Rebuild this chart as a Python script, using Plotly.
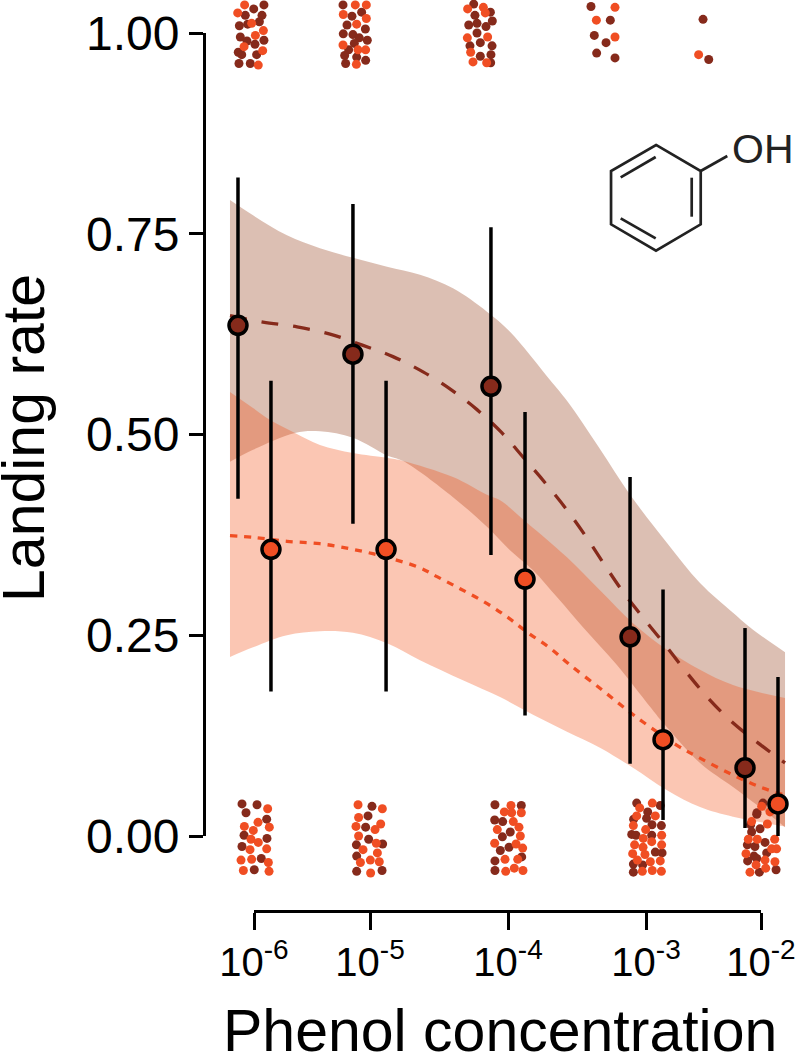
import plotly.graph_objects as go

DARK = "#862a1b"
ORANGE = "#f04e23"
FONT = "Liberation Sans"

# x values are positions along the (non-uniform) concentration axis; tick positions below
tick_pos = [0, 0.841, 1.841, 2.841, 3.674]
tick_labels = ["10<sup>-6</sup>", "10<sup>-5</sup>", "10<sup>-4</sup>", "10<sup>-3</sup>", "10<sup>-2</sup>"]
y_ticks = [0, 0.25, 0.5, 0.75, 1]
y_tick_labels = ["0.00", "0.25", "0.50", "0.75", "1.00"]

dark_upper_x = [-.174, -.007, .239, .478, .717, .964, 1.203, 1.442, 1.688, 1.855, 2.145, 2.268, 2.507, 2.725, 2.993, 3.232, 3.471, 3.616, 3.848]
dark_upper_y = [.792, .773, .748, .732, .720, .709, .699, .682, .653, .628, .568, .542, .482, .425, .365, .315, .278, .257, .229]
dark_lower_x = [-.174, -.007, .297, .478, .717, .964, 1.080, 1.442, 1.688, 1.855, 2.022, 2.203, 2.384, 2.630, 2.870, 2.964, 3.232, 3.471, 3.717, 3.848]
dark_lower_y = [.466, .481, .502, .504, .496, .474, .467, .422, .385, .356, .331, .296, .260, .213, .161, .141, .091, .061, .029, .011]
orange_upper_x = [-.174, -.007, .116, .297, .478, .717, .964, 1.080, 1.442, 1.688, 1.783, 1.978, 2.268, 2.507, 2.746, 2.993, 3.232, 3.471, 3.848]
orange_upper_y = [.553, .533, .518, .502, .487, .477, .471, .467, .447, .425, .418, .390, .347, .306, .265, .232, .207, .188, .172]
orange_lower_x = [-.174, -.007, .239, .478, .717, .964, 1.203, 1.514, 1.783, 2.022, 2.268, 2.507, 2.746, 2.993, 3.232, 3.471, 3.848]
orange_lower_y = [.223, .235, .250, .255, .253, .240, .219, .194, .173, .151, .130, .110, .085, .057, .036, .024, .012]

dark_line_x = [-.174, .065, .312, .551, .790, 1.007, 1.225, 1.435, 1.616, 1.797, 1.949, 2.109, 2.268, 2.413, 2.543, 2.674, 2.833, 2.993, 3.138, 3.290, 3.464, 3.652, 3.848]
dark_line_y = [.648, .640, .634, .625, .611, .597, .578, .555, .531, .502, .472, .440, .406, .371, .337, .304, .269, .235, .203, .172, .142, .116, .091]
orange_line_x = [-.174, -.007, .239, .478, .717, .964, 1.203, 1.326, 1.493, 1.674, 1.833, 1.978, 2.145, 2.290, 2.507, 2.674, 2.819, 3.065, 3.232, 3.471, 3.667, 3.848]
orange_line_y = [.374, .372, .367, .364, .357, .347, .334, .323, .308, .291, .273, .254, .234, .213, .184, .161, .142, .113, .097, .076, .061, .051]

dark_mean_x = [-.116, .717, 1.717, 2.725, 3.558]
dark_mean_y = [.636, .600, .560, .248, .085]
dark_err_hi = [.820, .787, .758, .447, .259]
dark_err_lo = [.420, .389, .350, .090, .010]
orange_mean_x = [.123, .957, 1.964, 2.964, 3.797]
orange_mean_y = [.357, .357, .320, .120, .040]
orange_err_hi = [.567, .567, .528, .307, .198]
orange_err_lo = [.180, .180, .150, .020, .000]

landed_dark_x = [.072, -.002, -.063, .058, .039, -.046, -.106, -.099, -.051, .072, .007, -.114, -.089, .019, -.109, -.027,
                 .645, .780, .710, .674, .807, .647, .717, .763, .821, .727, .686, .657, .744, .809, .664,
                 1.592, 1.713, 1.601, 1.727, 1.556, 1.616, 1.681, 1.616, 1.565, 1.640, 1.725, 1.717, 1.640, 1.715,
                 2.442, 2.582, 2.466, 2.551, 2.483, 2.616, 3.254, 3.295]
landed_dark_y = [1.035, 1.030, 1.022, 1.022, 1.014, 1.011, 1.009, .995, .990, .991, .986, .976, .973, .973, .962, .962,
                 1.035, 1.026, 1.021, 1.010, 1.005, .999, .998, .994, .991, .987, .979, .972, .970, .966, .962,
                 1.036, 1.026, 1.022, 1.015, 1.010, 1.012, 1.008, 1.000, .984, .988, .984, .973, .971, .963,
                 1.033, 1.016, .997, .988, .975, .969, 1.017, .967]
landed_orange_x = [-.068, -.118, -.017, .068, .010, -.072, .063, .031,
                   .734, .814, .647, .814, .744, .645, .754, .809, .742,
                   1.548, 1.662, 1.676, 1.546, 1.693, 1.570, 1.587, 1.686,
                   2.616, 2.481, 2.616, 3.222]
landed_orange_y = [1.035, 1.025, 1.012, 1.003, .997, .983, .978, .960,
                   1.035, 1.035, 1.023, 1.018, 1.011, .985, .979, .979, .961,
                   1.030, 1.032, 1.025, .994, .995, .976, .964, .963,
                   1.032, 1.016, .995, .973]

missed_dark_x = [-.087, .022, -.058, .092, -.072, .094, -.087, .053, .002,
                 .855, .826, .809, .831, .742, .932, .744, .744, .928,
                 1.746, 1.937, 1.744, 1.802, 1.857, 1.800, 1.848, 1.785, 1.940, 1.746, 1.746,
                 2.773, 2.944, 2.853, 2.845, 2.751, 2.884, 2.952, 2.882, 2.737, 2.768, 2.908, 2.957, 2.749, 2.816, 2.749,
                 3.643, 3.599, 3.667, 3.606, 3.703, 3.575, 3.630, 3.715, 3.623, 3.577, 3.643, 3.783, 3.662, 3.688, 3.645]
missed_dark_y = [.040, .039, .029, .021, .001, -.003, -.013, -.028, -.042,
                 .037, .025, .011, -.004, -.011, -.010, -.025, -.044, -.043,
                 .039, .038, .020, .018, .005, -.001, -.014, -.018, -.026, -.031, -.043,
                 .041, .038, .030, .022, .021, .014, .013, .001, .002, .001, -.020, -.021, -.035, -.036, -.045,
                 .027, .014, .009, .005, -.008, -.011, -.013, -.021, -.025, -.031, -.028, -.042, -.045, .041, .029]
missed_orange_x = [.099, .029, -.070, .111, -.005, -.022, .031, -.029, .092, -.094, -.017, .104, -.077, .109,
                   .754, .930, .758, .918, .739, .877, .758, .886, .790, .894, .771, .843, .908, .845,
                   1.862, 1.814, 1.867, 1.937, 1.879, 1.920, 1.763, 1.930, 1.744, 1.899, 1.947, 1.911, 1.819, 1.886, 1.824, 1.949,
                   2.886, 2.795, 2.773, 2.908, 2.749, 2.838, 2.821, 2.954, 2.758, 2.882, 2.954, 2.819, 2.744, 2.833, 2.778, 2.944, 2.872, 2.814, 2.886, 2.952,
                   3.679, 3.739, 3.606, 3.720, 3.582, 3.647, 3.773, 3.565, 3.751, 3.787, 3.703, 3.775, 3.638, 3.708, 3.594]
missed_orange_y = [.034, .017, .012, .011, .007, -.004, -.008, -.017, -.016, -.030, -.029, -.033, -.043, -.044,
                   .039, .034, .023, .015, .012, .008, .000, -.009, -.017, -.021, -.033, -.030, -.032, -.046,
                   .038, .030, .029, .029, .018, .011, .008, .000, -.009, -.010, -.015, -.029, -.029, -.040, -.044, -.043,
                   .041, .035, .025, .025, .013, .008, -.003, .001, -.011, -.007, -.011, -.014, -.022, -.023, -.030, -.031, -.032, -.044, -.043, -.044,
                   .037, .030, .018, .015, -.004, -.004, -.004, -.022, -.016, -.016, -.030, -.032, -.036, -.040, -.045]

W, H = 800, 1055
fig = go.Figure()


def band(ux, uy, lx, ly, fill):
    fig.add_trace(go.Scatter(x=lx, y=ly, mode="lines", hoverinfo="skip", showlegend=False,
                             line=dict(width=0, shape="spline", smoothing=1)))
    fig.add_trace(go.Scatter(x=ux, y=uy, mode="lines", fill="tonexty", fillcolor=fill, hoverinfo="skip",
                             showlegend=False, line=dict(width=0, shape="spline", smoothing=1)))


band(dark_upper_x, dark_upper_y, dark_lower_x, dark_lower_y, "rgba(138,42,2,0.30)")
band(orange_upper_x, orange_upper_y, orange_lower_x, orange_lower_y, "rgba(242,78,20,0.32)")

fig.add_trace(go.Scatter(x=dark_line_x, y=dark_line_y, mode="lines", showlegend=False,
                         line=dict(color=DARK, width=3.3, dash="17px,15px", shape="spline", smoothing=1)))
fig.add_trace(go.Scatter(x=orange_line_x, y=orange_line_y, mode="lines", showlegend=False,
                         line=dict(color=ORANGE, width=3.3, dash="7px,7px", shape="spline", smoothing=1)))

for xs, ys, col in [(landed_dark_x, landed_dark_y, DARK), (missed_dark_x, missed_dark_y, DARK),
                    (landed_orange_x, landed_orange_y, ORANGE), (missed_orange_x, missed_orange_y, ORANGE)]:
    fig.add_trace(go.Scatter(x=xs, y=ys, mode="markers", cliponaxis=False, showlegend=False,
                             marker=dict(color=col, size=9, line=dict(width=0))))


def means(xs, ys, hi, lo, col):
    fig.add_trace(go.Scatter(
        x=xs, y=ys, mode="markers", cliponaxis=False, showlegend=False,
        error_y=dict(type="data", symmetric=False,
                     array=[round(h - y, 3) for h, y in zip(hi, ys)],
                     arrayminus=[round(y - l, 3) for y, l in zip(ys, lo)],
                     color="black", thickness=3.5, width=0),
        marker=dict(color=col, size=18, line=dict(color="black", width=3.5))))


means(dark_mean_x, dark_mean_y, dark_err_hi, dark_err_lo, DARK)
means(orange_mean_x, orange_mean_y, orange_err_hi, orange_err_lo, ORANGE)

# invisible trace so that the visible axes exist
fig.add_trace(go.Scatter(x=tick_pos, y=y_ticks, xaxis="x2", yaxis="y2", mode="markers",
                         marker=dict(opacity=0, size=1), hoverinfo="skip", showlegend=False))

# benzene ring and hydroxyl bond (schematic, paper coordinates)
ring = [(656, 145), (700.7, 171), (700.7, 224.3), (656, 250.7), (611, 224.3), (611, 171), (656, 145)]
bonds = [((700.7, 171), (727.3, 156)), ((620.7, 177.3), (655.7, 157)),
         ((691.7, 177.7), (691.7, 216.7)), ((620.7, 218.3), (655.7, 238.3))]
shapes = []
path = "M " + " L ".join(f"{x / W:.4f},{1 - y / H:.4f}" for x, y in ring) + " Z"
shapes.append(dict(type="path", xref="paper", yref="paper", path=path,
                   line=dict(color="#222222", width=2.7), fillcolor="rgba(0,0,0,0)"))
for (x0, y0), (x1, y1) in bonds:
    shapes.append(dict(type="line", xref="paper", yref="paper", x0=x0 / W, y0=1 - y0 / H, x1=x1 / W, y1=1 - y1 / H,
                       line=dict(color="#222222", width=2.7)))

fig.update_layout(
    template="none",
    width=W, height=H, margin=dict(l=0, r=0, t=0, b=0), paper_bgcolor="white", plot_bgcolor="rgba(0,0,0,0)",
    font=dict(family=FONT, color="black"), showlegend=False, shapes=shapes,
    xaxis=dict(domain=[204 / W, 1], range=[-0.3623, 3.9565], visible=False, automargin=False),
    yaxis=dict(domain=[0, 1], range=[-0.2727, 1.0411], visible=False, automargin=False),
    xaxis2=dict(domain=[254 / W, 761 / W], range=[0, 3.674], anchor="free", position=1 - 911 / H,
                tickmode="array", tickvals=tick_pos, ticktext=tick_labels, showgrid=False, zeroline=False,
                showline=True, linecolor="black", linewidth=3, ticks="outside", ticklen=17, tickwidth=3,
                tickcolor="black", tickfont=dict(size=40, family=FONT, color="black"), tickangle=0,
                ticklabeloverflow="allow", ticklabelstandoff=-2, automargin=False),
    yaxis2=dict(domain=[1 - 836 / H, 1 - 33 / H], range=[0, 1], anchor="free", position=204 / W,
                tickmode="array", tickvals=y_ticks,
                ticktext=y_tick_labels, showgrid=False, zeroline=False, showline=True, linecolor="black",
                linewidth=3, ticks="outside", ticklen=14, tickwidth=3, tickcolor="black",
                tickfont=dict(size=48, family=FONT, color="black"), automargin=False),
    annotations=[
        dict(text="Phenol concentration", xref="paper", yref="paper", x=500 / W, y=1 - 1031 / H, xanchor="center",
             yanchor="middle", showarrow=False, font=dict(size=59, family=FONT, color="black")),
        dict(text="Landing rate", xref="paper", yref="paper", x=24 / W, y=1 - 438 / H, xanchor="center",
             yanchor="middle", textangle=-90, showarrow=False, font=dict(size=59, family=FONT, color="black")),
        dict(text="OH", xref="paper", yref="paper", x=763 / W, y=1 - 149 / H, xanchor="center", yanchor="middle",
             showarrow=False, font=dict(size=41, family=FONT, color="#222222")),
    ],
)

fig.write_html("out.html", config={"displayModeBar": False},
               post_script="document.body.style.margin='0';document.documentElement.style.overflow='hidden';")
